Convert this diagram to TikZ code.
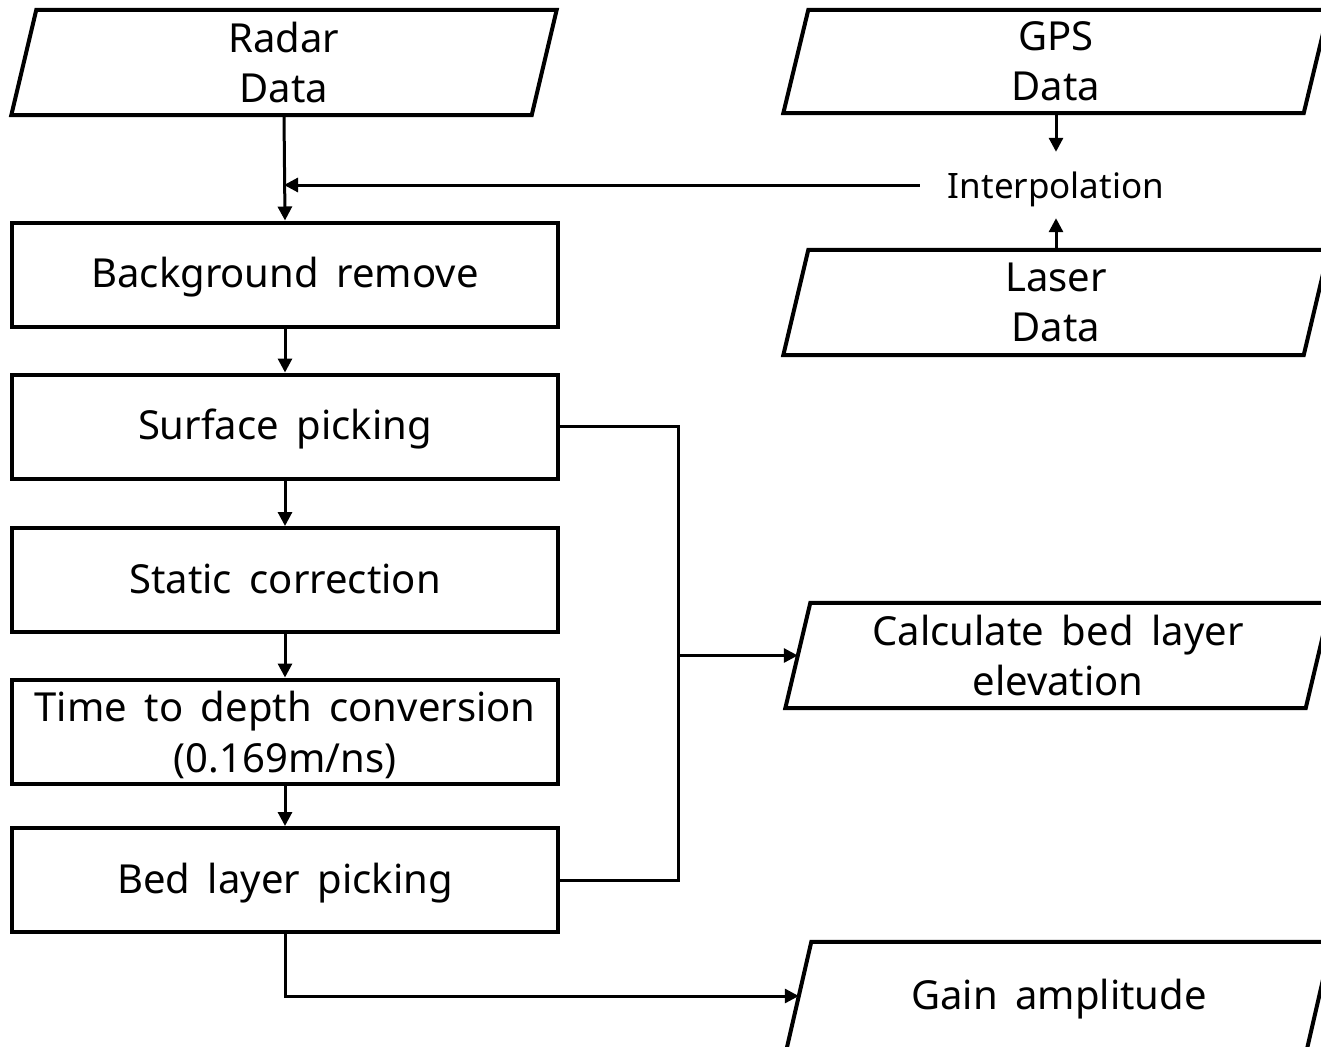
\documentclass[tikz,border=0pt]{standalone}
\usepackage{fontspec}
\setmainfont{Noto Sans}[WordSpace=1.7]
\usetikzlibrary{arrows.meta,positioning}

% parallelogram outline around a (borderless) rectangle node
\newcommand\slantbox[1]{%
  \draw[box line] ([xshift=12.5pt]#1.north west) -- ([xshift=12.5pt]#1.north east)
    -- ([xshift=-12.5pt]#1.south east) -- ([xshift=-12.5pt]#1.south west) -- cycle;}

\begin{document}
\begin{tikzpicture}[x=1pt,y=-1pt,
  box line/.style={line width=4pt,line join=miter},
  stepbox/.style={draw,line width=4pt,minimum width=546pt,minimum height=104pt,
    inner sep=0pt,align=center,font=\fontsize{40}{51}\selectfont},
  databox/.style={minimum width=520pt,minimum height=105pt,inner sep=0pt,
    align=center,font=\fontsize{40}{50}\selectfont},
  oneline/.style={text height=34pt,text depth=8pt},
  flow/.style={line width=3pt,-{Triangle[length=14pt,width=14pt]}},
  plain/.style={line width=3pt}]
\clip (0,0) rectangle (1321,1046);
\useasboundingbox (0,0) rectangle (1321,1046);

% input data
\node[databox] (radar) at (284,62.5) {Radar\\Data};
\slantbox{radar}
\node[databox,minimum height=103pt] (gps) at (1056,61.5) {GPS\\Data};
\slantbox{gps}
\node[databox] (laser) at (1056,302.5) {Laser\\Data};
\slantbox{laser}
\node[font=\fontsize{35}{40}\selectfont,inner xsep=28pt,inner ysep=0pt,
  minimum height=66pt,text height=29pt,text depth=3pt]
  (interp) at (1056,185) {Interpolation};

% processing chain
\node[stepbox,oneline] (bg)   at (285,274.5) {Background remove};
\node[stepbox,oneline] (surf) at (285,426.5) {Surface picking};
\node[stepbox,oneline] (stat) at (285,580)   {Static correction};
\node[stepbox,text depth=0pt] (tdc) at (285,731.5) {Time to depth conversion\\(0.169m/ns)};
\node[stepbox,oneline] (bed)  at (285,880)   {Bed layer picking};

% outputs
\node[databox] (calc) at (1058,655.5) {Calculate bed layer\\elevation};
\slantbox{calc}
\node[databox,oneline,minimum height=108pt] (gain) at (1059,996) {Gain amplitude};
\slantbox{gain}

\coordinate (join) at (678,655.5);

% connectors
\draw[flow] (radar.south) -- (bg.north);
\draw[flow] (interp.west) -- (radar.south |- interp.west);
\draw[flow] (gps.south) -- (interp.north);
\draw[flow] (laser.north) -- (interp.south);
\draw[flow] (bg.south) -- (surf.north);
\draw[flow] (surf.south) -- (stat.north);
\draw[flow] (stat.south) -- (tdc.north);
\draw[flow] (tdc.south) -- (bed.north);
\draw[plain] (surf.east) -| (join);
\draw[plain] (bed.east) -| (join);
\draw[flow] (join) -- (calc.west);
\draw[flow] (bed.south) |- (gain.west);
\end{tikzpicture}
\end{document}
